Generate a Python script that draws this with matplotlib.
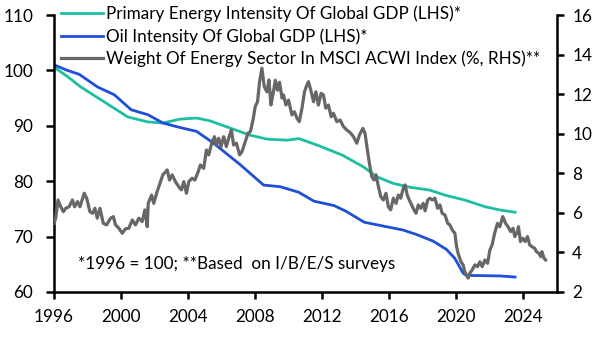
import matplotlib
matplotlib.use("Agg")
import matplotlib.pyplot as plt

plt.rcParams['font.family'] = ['Lato', 'DejaVu Sans']

# Primary energy intensity of global GDP, 1996 = 100 (LHS)
energy_years = [1996.0, 1996.8, 1997.6, 1998.8, 2000.4, 2001.6, 2002.5, 2003.5,
                2004.5, 2005.3, 2006.5, 2007.7, 2008.7, 2009.9, 2010.6, 2011.8,
                2013.2, 2014.45, 2015.25, 2016.24, 2017.25, 2018.4, 2019.3,
                2020.5, 2021.7, 2022.6, 2023.5]
energy_vals = [100.6, 98.9, 97.0, 94.7, 91.6, 90.7, 90.5, 91.2,
               91.4, 90.9, 89.6, 88.3, 87.6, 87.4, 87.7, 86.4,
               84.7, 82.6, 80.8, 79.6, 78.9, 78.4, 77.5,
               76.6, 75.4, 74.8, 74.4]

# Oil intensity of global GDP, 1996 = 100 (LHS)
oil_years = [1996.0, 1996.8, 1997.5, 1998.6, 1999.6, 2000.6, 2001.6, 2002.5,
             2003.5, 2004.5, 2005.5, 2007.1, 2008.5, 2009.5, 2010.6, 2011.5,
             2012.7, 2013.4, 2014.5, 2015.8, 2016.8, 2017.6, 2018.6, 2019.4,
             2019.9, 2020.4, 2020.6, 2022.6, 2023.5]
oil_vals = [101.0, 100.0, 99.3, 97.0, 95.6, 92.9, 92.0, 90.5,
            89.7, 89.0, 86.9, 83.0, 79.3, 79.0, 78.0, 76.4,
            75.6, 74.6, 72.6, 71.8, 71.2, 70.4, 69.2, 67.7,
            66.1, 63.4, 63.0, 62.9, 62.7]

# Weight of energy sector in MSCI ACWI, % (RHS)
weight_years = [
    1996.00, 1996.10, 1996.24, 1996.40, 1996.56, 1996.70, 1996.90, 1997.10,
    1997.23, 1997.40, 1997.55, 1997.80, 1997.95, 1998.14, 1998.30, 1998.44,
    1998.58, 1998.74, 1998.94, 1999.14, 1999.37, 1999.54, 1999.67, 1999.87,
    2000.07, 2000.27, 2000.46, 2000.67, 2000.86, 2001.06, 2001.26, 2001.42,
    2001.56, 2001.62, 2001.82, 2001.95, 2002.15, 2002.35, 2002.49, 2002.75,
    2002.89, 2003.05, 2003.24, 2003.44, 2003.60, 2003.74, 2003.90, 2004.04,
    2004.24, 2004.40, 2004.60, 2004.73, 2004.93, 2005.09, 2005.23, 2005.43,
    2005.57, 2005.68, 2005.82, 2005.96, 2006.12, 2006.28, 2006.48, 2006.58,
    2006.71, 2006.88, 2007.07, 2007.21, 2007.41, 2007.57, 2007.71, 2007.87,
    2008.00, 2008.14, 2008.26, 2008.40, 2008.54, 2008.70, 2008.82, 2008.94,
    2009.06, 2009.20, 2009.33, 2009.45, 2009.60, 2009.69, 2009.83, 2009.99,
    2010.19, 2010.34, 2010.49, 2010.63, 2010.79, 2010.94, 2011.08, 2011.18,
    2011.34, 2011.48, 2011.62, 2011.77, 2011.93, 2012.07, 2012.21, 2012.37,
    2012.53, 2012.67, 2012.87, 2013.07, 2013.26, 2013.46, 2013.66, 2013.86,
    2014.06, 2014.22, 2014.42, 2014.55, 2014.69, 2014.81, 2014.95, 2015.09,
    2015.21, 2015.35, 2015.49, 2015.64, 2015.80, 2015.94, 2016.08, 2016.24,
    2016.40, 2016.54, 2016.68, 2016.83, 2016.94, 2017.07, 2017.19, 2017.33,
    2017.47, 2017.59, 2017.73, 2017.87, 2018.02, 2018.13, 2018.29, 2018.42,
    2018.56, 2018.72, 2018.88, 2019.02, 2019.15, 2019.32, 2019.48, 2019.61,
    2019.75, 2019.91, 2020.01, 2020.10, 2020.27, 2020.40, 2020.50, 2020.60,
    2020.70, 2020.80, 2020.94, 2021.10, 2021.26, 2021.40, 2021.54, 2021.70,
    2021.86, 2022.00, 2022.13, 2022.29, 2022.45, 2022.59, 2022.76, 2022.85,
    2022.93, 2023.08, 2023.24, 2023.38, 2023.48, 2023.64, 2023.70, 2023.82,
    2023.96, 2024.10, 2024.24, 2024.37, 2024.51, 2024.67, 2024.77, 2024.91,
    2025.03, 2025.10, 2025.23, 2025.32]
weight_vals = [
    5.47, 5.73, 6.65, 6.31, 6.06, 6.23, 6.31, 6.65,
    6.31, 6.57, 6.31, 6.99, 6.74, 6.06, 5.98, 6.23,
    5.73, 6.23, 5.47, 5.39, 5.73, 5.81, 5.39, 5.22,
    4.97, 5.20, 5.22, 5.64, 5.39, 5.73, 5.56, 6.15,
    5.30, 6.48, 6.90, 6.48, 7.07, 7.58, 7.92, 8.17,
    7.66, 7.92, 7.58, 7.32, 7.16, 7.58, 6.99, 7.58,
    7.75, 7.66, 8.08, 8.42, 8.25, 9.18, 8.93, 9.60,
    9.85, 9.43, 9.77, 9.35, 9.85, 9.35, 9.94, 10.19,
    9.43, 9.52, 8.93, 9.09, 9.60, 10.02, 10.10, 10.69,
    11.37, 11.62, 12.63, 13.31, 12.38, 12.12, 12.72, 11.45,
    12.00, 12.70, 12.20, 12.60, 11.80, 11.96, 11.45, 11.70,
    10.95, 11.11, 10.78, 10.61, 11.29, 12.12, 12.46, 12.63,
    12.12, 11.62, 12.12, 11.45, 12.04, 11.96, 11.29, 11.45,
    10.86, 11.03, 10.61, 10.69, 10.36, 10.19, 10.06, 9.85,
    9.52, 9.94, 10.27, 10.02, 9.18, 8.51, 7.83, 7.66,
    7.92, 7.32, 6.82, 6.65, 6.99, 6.31, 6.15, 6.74,
    6.48, 6.90, 6.74, 7.24, 7.41, 6.90, 6.65, 6.40,
    6.15, 5.98, 6.40, 6.23, 6.48, 6.10, 6.65, 6.74,
    6.65, 6.74, 6.23, 6.40, 5.98, 5.89, 5.47, 5.39,
    5.14, 4.97, 4.29, 3.96, 3.53, 3.37, 3.03, 2.86,
    2.70, 2.95, 3.11, 3.37, 3.28, 3.53, 3.28, 3.62,
    3.45, 4.13, 4.38, 5.00, 5.47, 5.30, 5.81, 5.64,
    5.47, 5.30, 5.05, 5.22, 4.80, 5.05, 5.30, 4.55,
    4.72, 4.55, 4.80, 4.38, 4.29, 4.21, 4.04, 3.96,
    3.79, 4.04, 3.70, 3.62]

x_ticks = [1996, 2000, 2004, 2008, 2012, 2016, 2020, 2024]
left_ticks = [60, 70, 80, 90, 100, 110]
right_ticks = [2, 4, 6, 8, 10, 12, 14, 16]

teal = '#1dbfa3'
blue = '#1f4fd6'
grey = '#676767'
fs = 12.3

fig = plt.figure(figsize=(6.04, 3.40), dpi=100)
ax1 = fig.add_axes([54 / 604, 1 - 292 / 340, (557 - 54) / 604, (292 - 15) / 340])
ax2 = ax1.twinx()

l1, = ax1.plot(energy_years, energy_vals, color=teal, lw=2.0,
               label='Primary Energy Intensity Of Global GDP (LHS)*')
l2, = ax1.plot(oil_years, oil_vals, color=blue, lw=2.0,
               label='Oil Intensity Of Global GDP (LHS)*')
l3, = ax2.plot(weight_years, weight_vals, color=grey, lw=2.3,
               label='Weight Of Energy Sector In MSCI ACWI Index (%, RHS)**')

ax1.set_xlim(1996, 2026)
ax1.set_ylim(60, 110)
ax2.set_ylim(2, 16)
ax1.set_xticks(x_ticks)
ax1.set_yticks(left_ticks)
ax2.set_yticks(right_ticks)

for ax in (ax1, ax2):
    ax.spines['top'].set_visible(False)
    for side in ('left', 'right', 'bottom'):
        ax.spines[side].set_linewidth(1.8)
ax1.spines['right'].set_visible(False)
ax2.spines['left'].set_visible(False)
ax2.spines['bottom'].set_visible(False)

ax1.tick_params(axis='x', direction='out', length=5, width=1.8, pad=7, labelsize=fs)
ax1.tick_params(axis='y', direction='out', length=6, width=1.8, pad=9, labelsize=fs)
ax2.tick_params(axis='y', direction='out', length=5, width=1.8, pad=6, labelsize=fs)

ax1.text(1997.45, 65, '*1996 = 100; **Based  on I/B/E/S surveys',
         fontsize=fs, va='center', ha='left')

ax2.legend(handles=[l1, l2, l3], loc='upper left', bbox_to_anchor=(0.013, 1.035),
           frameon=False, fontsize=fs, handlelength=2.5, handletextpad=0.15,
           labelspacing=0.36, borderpad=0, borderaxespad=0)

fig.savefig('out.png', dpi=100)
